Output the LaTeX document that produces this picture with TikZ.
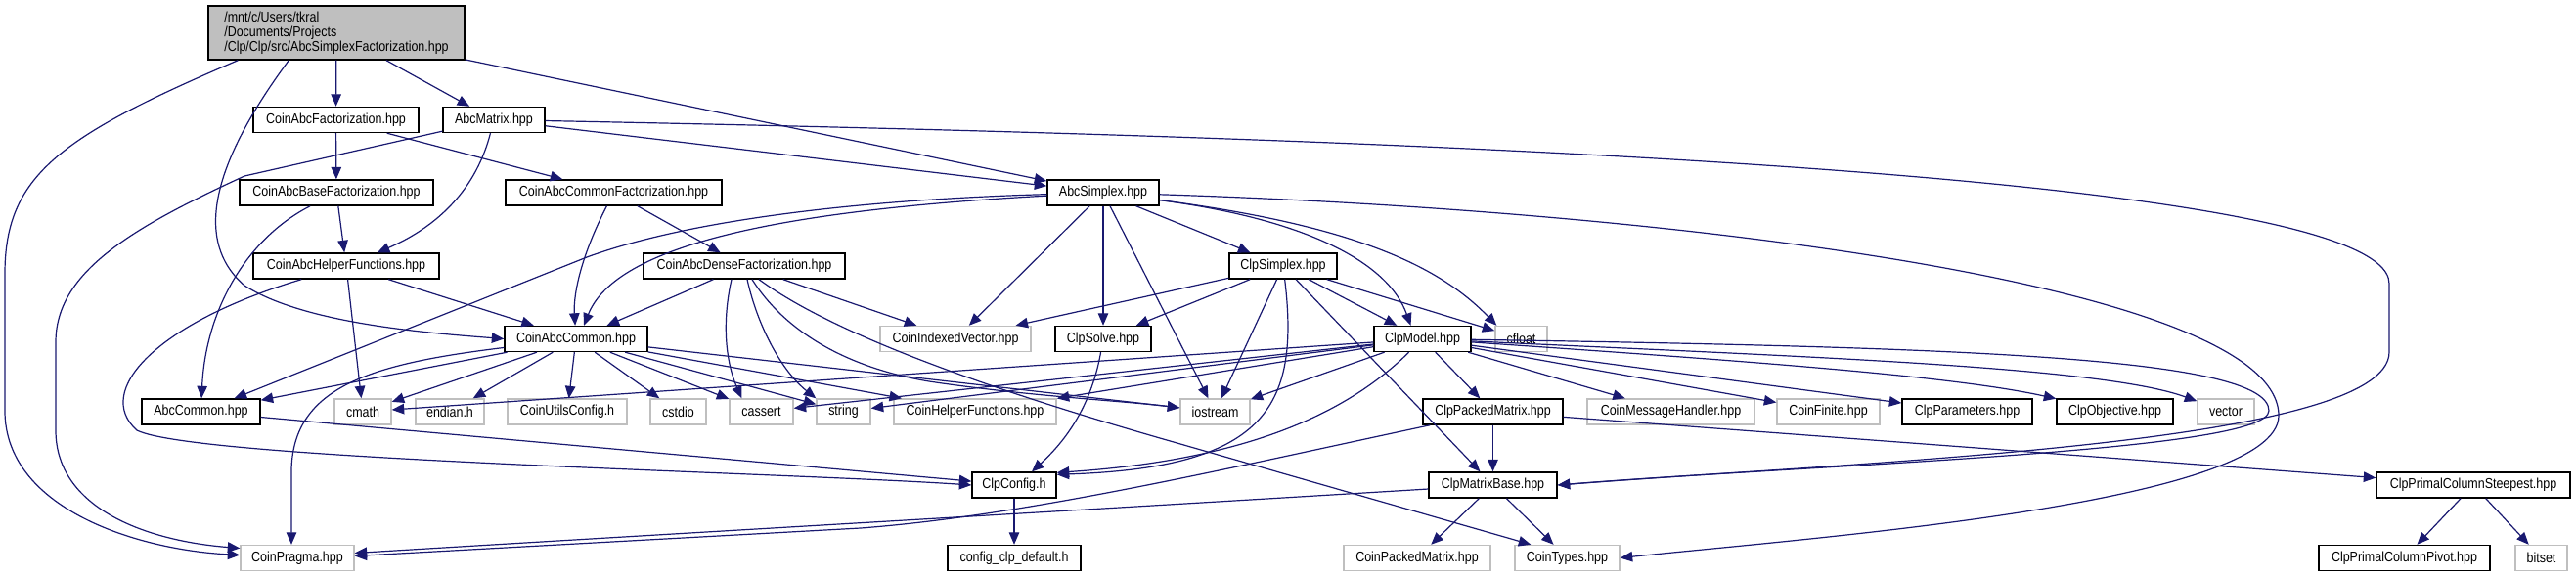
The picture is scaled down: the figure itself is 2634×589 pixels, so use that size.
\documentclass[tikz,border=0pt]{standalone}
\usepackage{fontspec}
\setmainfont{Liberation Sans}[FakeStretch=0.86]
\usetikzlibrary{calc, arrows.meta}
\definecolor{depblue}{HTML}{191970}
\definecolor{boxgray}{HTML}{BFBFBF}

\begin{document}
\begin{tikzpicture}[x=1pt, y=-1pt,
	every node/.style={font=\fontsize{14.5}{15}\selectfont, inner xsep=2pt, inner ysep=0pt, minimum height=26pt},
	blk/.style={draw=black, line width=1.4pt},
	gry/.style={draw=boxgray, line width=1.4pt},
	dep/.style={draw=depblue, line width=1.2pt, -{Triangle[length=12.5pt,width=10.5pt]}}]
		\useasboundingbox (0,0) rectangle (2634,589);

		\node[blk, fill=boxgray, align=left, minimum width=262pt, minimum height=55pt] (root) at (344,33.5)
			{/mnt/c/Users/tkral\\/Documents/Projects\\/Clp/Clp/src/AbcSimplexFactorization.hpp};

		\foreach \n/\x/\y/\w/\t in {cabcfact/343.5/122.5/169/CoinAbcFactorization.hpp, abcmatrix/505/122.5/104/AbcMatrix.hpp,
			cabcbase/344/197/198/CoinAbcBaseFactorization.hpp, cabccf/627.5/197/221/CoinAbcCommonFactorization.hpp,
			abcsimplex/1128/197/114/AbcSimplex.hpp, cabchelp/354/272/190/CoinAbcHelperFunctions.hpp,
			cabcdense/761/272/206/CoinAbcDenseFactorization.hpp, clpsimplex/1312/272/110/ClpSimplex.hpp,
			cabccommon/589/346.5/146/CoinAbcCommon.hpp, clpsolve/1128/346.5/98/ClpSolve.hpp,
			clpmodel/1454.5/346.5/99/ClpModel.hpp, abccommon/205.5/421/121/AbcCommon.hpp,
			clppacked/1526.5/421/143/ClpPackedMatrix.hpp, clpparam/2011.5/421/133/ClpParameters.hpp,
			clpobj/2162.5/421/119/ClpObjective.hpp, clpconfig/1037/496/86/ClpConfig.h,
			clpmatbase/1526.5/496/131/ClpMatrixBase.hpp, clpsteep/2529/496/198/ClpPrimalColumnSteepest.hpp,
			configdef/1037/570.5/136/config\_clp\_default.h, clppivot/2458.5/570.5/175/ClpPrimalColumnPivot.hpp}
			\node[blk, minimum width=\w pt] (\n) at (\x,\y) {\t};

		\foreach \n/\x/\y/\w/\t in {civ/977/346.5/154/CoinIndexedVector.hpp, cfloat/1555.5/346.5/53/cfloat,
			cmath/371/421/58/cmath, endian/460/421/70/endian.h, cuconfig/580/421/122/CoinUtilsConfig.h,
			cstdio/693.5/421/57/cstdio, cassert/778.5/421/65/cassert, string/862.5/421/55/string,
			chelper/997/421/166/CoinHelperFunctions.hpp, iostream/1242.5/421/71/iostream,
			cmsg/1708.5/421/171/CoinMessageHandler.hpp, cfinite/1869.5/421/105/CoinFinite.hpp,
			vector/2276/421/58/vector, cpragma/304/570.5/116/CoinPragma.hpp,
			cpacked/1449/570.5/150/CoinPackedMatrix.hpp, ctypes/1602.5/570.5/107/CoinTypes.hpp,
			bitset/2598.5/570.5/53/bitset}
			\node[gry, minimum width=\w pt] (\n) at (\x,\y) {\t};

		\foreach \a/\b in {root/cabcfact, root/abcmatrix, root/abcsimplex, cabcfact/cabcbase, cabcfact/cabccf,
			abcmatrix/abcsimplex, cabcbase/cabchelp, cabccf/cabcdense, cabchelp/cabccommon, cabchelp/cmath,
			cabcdense/cabccommon, cabcdense/civ, cabccommon/abccommon, cabccommon/cmath, cabccommon/endian,
			cabccommon/cuconfig, cabccommon/cstdio, cabccommon/cassert, cabccommon/string, cabccommon/chelper,
			cabccommon/iostream, abccommon/clpconfig, abcsimplex/civ, abcsimplex/clpsolve, abcsimplex/iostream,
			abcsimplex/clpsimplex, clpsimplex/civ, clpsimplex/clpsolve, clpsimplex/iostream, clpsimplex/clpmatbase,
			clpsimplex/clpmodel, clpsimplex/cfloat, clpmodel/cmath, clpmodel/cassert, clpmodel/string,
			clpmodel/chelper, clpmodel/iostream, clpmodel/clppacked, clpmodel/cmsg, clpmodel/cfinite,
			clpmodel/clpparam, clppacked/clpmatbase, clppacked/clpsteep, clpmatbase/cpacked, clpmatbase/ctypes,
			clpconfig/configdef, clpsteep/clppivot, clpsteep/bitset}
			\draw[dep] (\a) -- (\b);

		\draw[dep] ($(root.south west)+(31,0)$) .. controls (60,140) and (5,180) .. (5,280) -- (5,420)
			.. controls (5,520) and (140,562) .. ($(cpragma.west)+(0,-3)$);
		\draw[dep] ($(root.south west)+(83,0)$) .. controls (230,150) and (190,240) .. (250,292)
			.. controls (310,330) and (430,340) .. (cabccommon.west);
		\draw[dep] ($(abcmatrix.south west)+(0,-2)$) -- (250,180) .. controls (130,235) and (57,280) .. (57,350) -- (57,440)
			.. controls (57,520) and (150,553) .. ($(cpragma.west)+(0,-10)$);
		\draw[dep] (abcmatrix) .. controls (485,200) and (440,235) .. (cabchelp);
		\draw[dep] (abcmatrix) .. controls (1400,140) and (2443,175) .. (2443,290) -- (2443,360)
			.. controls (2443,455) and (1900,472) .. (clpmatbase.east);
		\draw[dep] (cabcbase) .. controls (250,245) and (210,320) .. (abccommon);
		\draw[dep] (cabccf) .. controls (595,260) and (586,300) .. (cabccommon);
		\draw[dep] (cabchelp) .. controls (160,330) and (95,400) .. (140,440)
			.. controls (200,470) and (800,483) .. (clpconfig.west);
		\draw[dep] ($(cabcdense.south)+(-13,0)$) .. controls (738,330) and (742,370) .. ($(cassert.north)+(-20,0)$);
		\draw[dep] ($(cabcdense.south)+(3,0)$) .. controls (775,335) and (800,380) .. (string.north west);
		\draw[dep] ($(cabcdense.south)+(8,0)$) .. controls (800,335) and (860,375) .. (950,390)
			.. controls (1050,405) and (1150,410) .. ($(iostream.west)+(0,-4)$);
		\draw[dep] ($(cabcdense.south)+(15,0)$) .. controls (850,340) and (1000,395) .. (1200,452)
			-- ($(ctypes.north west)+(17,0)$);
		\draw[dep] (cabccommon) .. controls (380,372) and (300,395) .. (298,480) -- ($(cpragma.north)+(-6,0)$);
		\draw[dep] (abcsimplex) .. controls (850,205) and (690,230) .. (600,263) -- (abccommon);
		\draw[dep] (abcsimplex) .. controls (800,215) and (630,250) .. ($(cabccommon.north)+(8,0)$);
		\draw[dep] (abcsimplex) .. controls (1340,225) and (1420,270) .. ($(clpmodel.north)+(-12,0)$);
		\draw[dep] (abcsimplex) .. controls (1380,230) and (1470,270) .. ($(cfloat.north west)+(2,0)$);
		\draw[dep] (abcsimplex) .. controls (1700,215) and (2330,290) .. (2330,425)
			.. controls (2330,515) and (1850,550) .. (ctypes.east);
		\draw[dep] (clpsimplex) .. controls (1330,420) and (1290,478) .. ($(clpconfig.north east)+(0,3)$);
		\draw[dep] (clpsolve) .. controls (1115,420) and (1085,455) .. ($(clpconfig.north)+(18,0)$);
		\draw[dep] (clpmodel) .. controls (1380,420) and (1280,470) .. ($(clpconfig.north east)+(0,1)$);
		\draw[dep] (clpmodel) .. controls (1800,370) and (2000,385) .. (clpobj);
		\draw[dep] (clpmodel) .. controls (1850,365) and (2150,375) .. (vector);
		\draw[dep] (clpmodel) .. controls (2000,355) and (2320,365) .. (2320,420)
			.. controls (2320,462) and (1850,475) .. (clpmatbase.east);
		\draw[dep] (clppacked) .. controls (1250,480) and (1050,527) .. (880,540) -- ($(cpragma.east)+(0,-2)$);
		\draw[dep] (clpmatbase) .. controls (1100,522) and (700,545) .. ($(cpragma.east)+(0,-5)$);
\end{tikzpicture}
\end{document}
